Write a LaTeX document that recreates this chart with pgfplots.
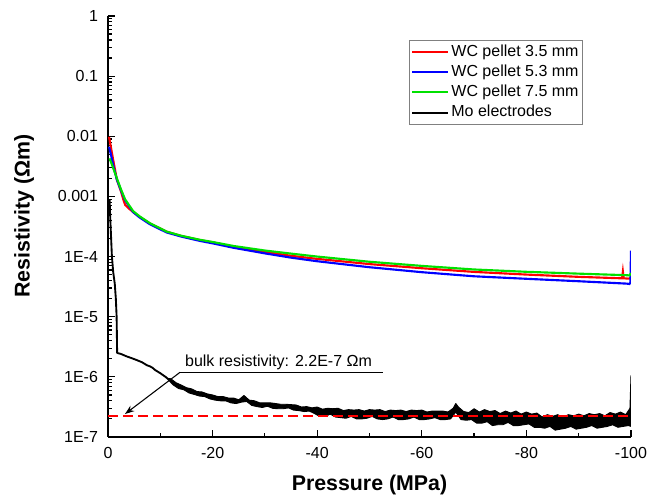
\documentclass[border=0pt]{standalone}
\usepackage{fontspec}
\setmainfont{Liberation Sans}
\usepackage{pgfplots}
\pgfplotsset{compat=1.18}
\usetikzlibrary{arrows.meta}
\definecolor{wcred}{RGB}{255,0,0}
\definecolor{wcblue}{RGB}{0,0,255}
\definecolor{wcgreen}{RGB}{0,225,0}
\begin{document}
\begin{tikzpicture}
\useasboundingbox (-81pt,-45.75pt) rectangle (406.5pt,327.75pt);
\begin{axis}[
  at={(0,0)}, anchor=south west,
  scale only axis, width=392.25pt, height=315.75pt,
  x dir=reverse, xmin=-100, xmax=0,
  ymode=log, ymin=1e-7, ymax=1,
  axis lines*=left,
  axis line style={-, line width=1.1pt},
  xtick={0,-20,-40,-60,-80,-100},
  xticklabels={0,-20,-40,-60,-80,-100},
  minor xtick={-10,-30,-50,-70,-90},
  ytick={1e-7,1e-6,1e-5,1e-4,1e-3,1e-2,1e-1,1},
  yticklabels={1E-7,1E-6,1E-5,1E-4,0.001,0.01,0.1,1},
  minor ytick={2e-7,3e-7,4e-7,5e-7,6e-7,7e-7,8e-7,9e-7,
    2e-6,3e-6,4e-6,5e-6,6e-6,7e-6,8e-6,9e-6,
    2e-5,3e-5,4e-5,5e-5,6e-5,7e-5,8e-5,9e-5,
    2e-4,3e-4,4e-4,5e-4,6e-4,7e-4,8e-4,9e-4,
    2e-3,3e-3,4e-3,5e-3,6e-3,7e-3,8e-3,9e-3,
    2e-2,3e-2,4e-2,5e-2,6e-2,7e-2,8e-2,9e-2,
    2e-1,3e-1,4e-1,5e-1,6e-1,7e-1,8e-1,9e-1},
  tick align=inside,
  major tick length=5pt, minor tick length=3pt,
  every tick/.style={black, line width=0.9pt},
  tick label style={font=\fontsize{12}{14}\selectfont},
  xticklabel style={yshift=-4pt},
  yticklabel style={xshift=-4pt},
  /pgf/number format/assume math mode=true,
  xlabel={Pressure (MPa)},
  ylabel={Resistivity (Ωm)},
  label style={font=\bfseries\fontsize{16}{19}\selectfont},
  xlabel style={at={(axis description cs:0.5,-0.1259)}, anchor=base},
  ylabel style={at={(axis description cs:-0.1606,0.525)}, anchor=center, rotate=0},
  legend style={at={(0.908,0.943)}, anchor=north east, draw=gray, line width=0.5pt,
    font=\fontsize{12}{14}\selectfont, inner sep=1.5pt, row sep=0.3pt,
    nodes={inner sep=1.5pt, text height=9pt, text depth=2.8pt}},
  legend cell align=left,
  legend image code/.code={\draw[#1, line width=1.5pt] (0pt,0pt) -- (27pt,0pt);},
]
\addplot[wcred, line width=1.6pt] coordinates {
(-0.2,9.8e-3) (-0.5,7e-3) (-1,4e-3) (-1.7,1.9e-3) (-2.5,1.2e-3) (-3.0,8.5e-4)
(-3.3,7.2e-4) (-4,6.3e-4) (-4.8,5.5e-4) (-6,4.6e-4) (-8,3.55e-4) (-11.2,2.6e-4)
(-14,2.2e-4) (-17.6,1.88e-4) (-20,1.72e-4) (-24,1.46e-4) (-30,1.2e-4) (-35,1.03e-4)
(-40,9.15e-5) (-50,7.5e-5) (-60,6.4e-5) (-70,5.56e-5) (-80,5.02e-5) (-90,4.6e-5)
(-98.3,4.35e-5) (-98.45,5.6e-5) (-98.6,4.35e-5) (-99.5,4.3e-5) (-99.9,4.35e-5) (-100,4.6e-5)};
\addlegendentry{WC pellet 3.5 mm}
\addplot[wcblue, line width=1.6pt] coordinates {
(-0.2,6.7e-3) (-0.6,4.8e-3) (-1.1,3e-3) (-1.7,1.9e-3) (-2.5,1.25e-3) (-3.25,8.7e-4)
(-4.8,5.5e-4) (-6,4.5e-4) (-8,3.45e-4) (-11.2,2.52e-4) (-14,2.15e-4) (-17.6,1.82e-4)
(-20,1.66e-4) (-24,1.4e-4) (-30,1.13e-4) (-35,9.6e-5) (-40,8.36e-5) (-50,6.65e-5)
(-60,5.5e-5) (-70,4.7e-5) (-80,4.27e-5) (-90,3.89e-5) (-99.2,3.55e-5) (-99.7,3.5e-5)
(-99.9,3.7e-5) (-100,1.25e-4)};
\addlegendentry{WC pellet 5.3 mm}
\addplot[wcgreen, line width=1.6pt] coordinates {
(-0.3,4.3e-3) (-0.8,3.3e-3) (-1.7,2.0e-3) (-2.5,1.3e-3) (-3.25,9e-4) (-4.8,5.7e-4)
(-6,4.7e-4) (-8,3.6e-4) (-11.2,2.6e-4) (-14,2.22e-4) (-17.6,1.9e-4) (-20,1.75e-4)
(-24,1.5e-4) (-30,1.26e-4) (-35,1.12e-4) (-40,1.0e-4) (-50,8.2e-5) (-60,7.0e-5)
(-70,6.1e-5) (-80,5.58e-5) (-90,5.2e-5) (-99.2,4.9e-5) (-99.7,4.85e-5) (-100,5.3e-5)};
\addlegendentry{WC pellet 7.5 mm}
\addplot[black, line width=1.4pt, line join=round] coordinates {
(-0.3,9e-4) (-0.45,4e-4) (-0.6,2e-4) (-0.75,1e-4) (-1.0,5.5e-5) (-1.3,3.5e-5)
(-1.5,2e-5) (-1.65,1e-5) (-1.7,5e-6) (-1.75,2.5e-6) (-2.5,2.4e-6) (-3.5,2.2e-6)
(-4.5,2.05e-6) (-5.5,1.9e-6) (-6.5,1.75e-6) (-7.5,1.55e-6) (-8,1.5e-6) (-8.5,1.42e-6)
(-9,1.3e-6) (-10,1.15e-6) (-11,1.0e-6) (-11.5,0.92e-6) (-12,8.6e-7)};
\addlegendentry{Mo electrodes}
% noisy band of the Mo trace: upper edge from -11.5 to -100, then lower edge back
\addplot[black, fill=black, line width=0.7pt, line join=round, forget plot] coordinates {
(-11.5,9.4e-7)
(-12,9.3e-7) (-13,8.0e-7) (-14,7.3e-7) (-15,6.6e-7) (-16,6.3e-7) (-17,5.7e-7)
(-18,5.6e-7) (-19,5.2e-7) (-20,5.0e-7) (-21,4.7e-7) (-22,4.7e-7) (-23,4.45e-7)
(-24,4.45e-7) (-25,4.15e-7) (-26,4.9e-7) (-27,4.1e-7) (-28,4.0e-7) (-29,3.7e-7)
(-30,3.7e-7) (-31,3.7e-7) (-32,3.6e-7) (-33,3.5e-7) (-34,3.5e-7) (-35,3.45e-7)
(-36,3.4e-7) (-37,3.15e-7) (-38,3.2e-7) (-39,3.05e-7) (-40,3.15e-7) (-41,2.9e-7)
(-42,3.0e-7) (-43,2.95e-7) (-44,3.0e-7) (-45,2.75e-7) (-46,2.85e-7) (-47,2.8e-7)
(-48,2.85e-7) (-49,2.7e-7) (-50,2.85e-7) (-51,2.8e-7) (-52,2.85e-7) (-53,2.65e-7)
(-54,2.8e-7) (-55,2.75e-7) (-56,2.8e-7) (-57,2.65e-7) (-58,2.8e-7) (-59,2.75e-7)
(-60,2.8e-7) (-61,2.6e-7) (-62,2.7e-7) (-63,2.7e-7) (-64,2.7e-7) (-65,2.6e-7)
(-66,3.0e-7) (-66.5,3.6e-7) (-67,3.15e-7) (-68,2.65e-7) (-69,2.55e-7) (-70,2.95e-7)
(-71,2.6e-7) (-72,2.85e-7) (-73,2.65e-7) (-74,2.75e-7) (-75,2.45e-7) (-76,2.7e-7)
(-77,2.5e-7) (-78,2.7e-7) (-79,2.4e-7) (-80,2.6e-7) (-81,2.4e-7) (-82,2.5e-7)
(-83,2.15e-7) (-84,2.35e-7) (-85,2.2e-7) (-86,2.35e-7) (-87,2.1e-7) (-88,2.35e-7)
(-89,2.25e-7) (-90,2.4e-7) (-91,2.25e-7) (-92,2.45e-7) (-93,2.35e-7) (-94,2.45e-7)
(-95,2.25e-7) (-96,2.55e-7) (-97,2.4e-7) (-98,2.6e-7) (-99,2.35e-7) (-99.8,3.0e-7)
(-100,1.05e-6) (-100,1.5e-7)
(-99.5,1.55e-7) (-98.5,1.5e-7) (-97.5,1.45e-7) (-96.5,1.6e-7) (-95.5,1.5e-7) (-94.5,1.45e-7)
(-93.5,1.4e-7) (-92.5,1.55e-7) (-91.5,1.45e-7) (-90.5,1.4e-7) (-89.5,1.35e-7) (-88.5,1.5e-7)
(-87.5,1.4e-7) (-86.5,1.35e-7) (-85.5,1.3e-7) (-84.5,1.5e-7) (-83.5,1.4e-7) (-82.5,1.45e-7)
(-81.5,1.45e-7) (-80.5,1.65e-7) (-79.5,1.6e-7) (-78.5,1.55e-7) (-77.5,1.55e-7) (-76.5,1.75e-7)
(-75.5,1.6e-7) (-74.5,1.6e-7) (-73.5,1.55e-7) (-72.5,1.8e-7) (-71.5,1.7e-7) (-70.5,1.7e-7)
(-69.5,1.95e-7) (-68.5,1.9e-7) (-67.5,1.95e-7) (-66.5,2.6e-7) (-65.5,2.0e-7) (-64.5,1.95e-7)
(-63.5,1.95e-7) (-62.5,2.1e-7) (-61.5,2.0e-7) (-60.5,1.95e-7) (-59.5,1.95e-7) (-58.5,2.15e-7)
(-57.5,2.0e-7) (-56.5,1.95e-7) (-55.5,1.95e-7) (-54.5,2.15e-7) (-53.5,2.0e-7) (-52.5,1.95e-7)
(-51.5,2.0e-7) (-50.5,2.2e-7) (-49.5,2.05e-7) (-48.5,2.0e-7) (-47.5,2.0e-7) (-46.5,2.2e-7)
(-45.5,2.05e-7) (-44.5,2.1e-7) (-43.5,2.15e-7) (-42.5,2.4e-7) (-41.5,2.2e-7) (-40.5,2.2e-7)
(-39.5,2.45e-7) (-38.5,2.7e-7) (-37.5,2.65e-7) (-36.5,2.75e-7) (-35.5,2.8e-7) (-34.5,3.05e-7)
(-33.5,2.95e-7) (-32.5,2.95e-7) (-31.5,3.0e-7) (-30.5,3.25e-7) (-29.5,3.1e-7) (-28.5,3.2e-7)
(-27.5,3.35e-7) (-26.5,3.9e-7) (-25.5,3.8e-7) (-24.5,3.6e-7) (-23.5,3.7e-7) (-22.5,4.0e-7)
(-21.5,4.0e-7) (-20.5,4.1e-7) (-19.5,4.3e-7) (-18.5,4.7e-7) (-17.5,4.8e-7) (-16.5,5.1e-7)
(-15.5,5.4e-7) (-14.5,6.1e-7) (-13.5,6.4e-7) (-12.5,7.3e-7) (-11.5,9.0e-7)} -- cycle;
\addplot[wcred, line width=1.5pt, dash pattern=on 7.5pt off 3.75pt, forget plot] coordinates {(0,2.2e-7) (-100,2.2e-7)};
\draw[black, line width=0.8pt] (axis cs:-13.77,1.19e-6) -- (axis cs:-52.6,1.19e-6);
\draw[black, line width=0.8pt, -{Stealth[length=7pt,width=5pt]}] (axis cs:-13.77,1.19e-6) -- (axis cs:-3.25,2.41e-7);
\node[anchor=base west, inner sep=0pt, font=\fontsize{12}{14}\selectfont] at (axis cs:-14.7,1.51e-6) {bulk resistivity: 2.2E-7 Ωm};
\end{axis}
\end{tikzpicture}
\end{document}
